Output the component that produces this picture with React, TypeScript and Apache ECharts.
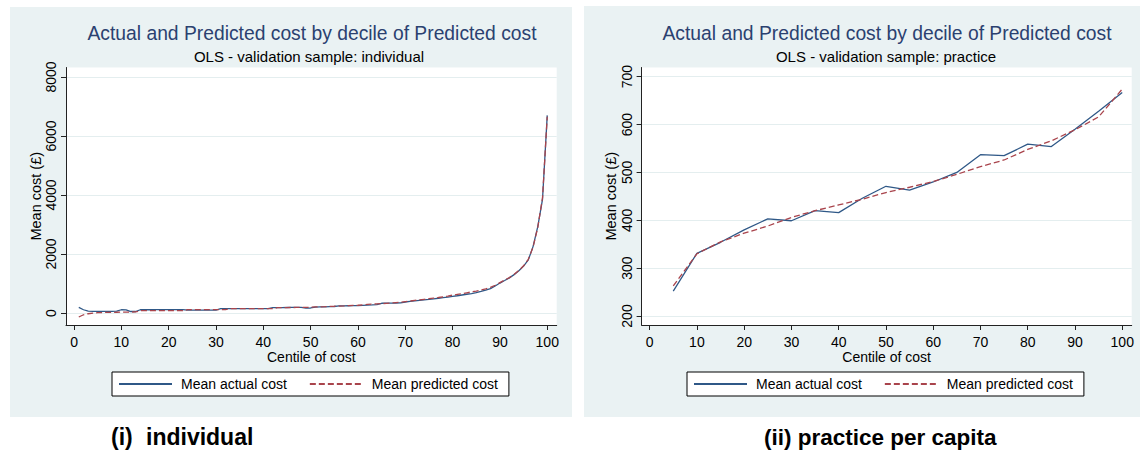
import React, { useEffect, useRef } from "react";
import * as echarts from "echarts";

// ---------- data ----------
const xTickValues = [0, 10, 20, 30, 40, 50, 60, 70, 80, 90, 100];
const indYTicks = [0, 2000, 4000, 6000, 8000];
const pracYTicks = [200, 300, 400, 500, 600, 700];

const indCentiles = [
  1, 2, 3, 4, 5, 6, 7, 8, 9, 10, 11, 12, 13, 14, 15, 16, 17, 18, 19, 20,
  21, 22, 23, 24, 25, 26, 27, 28, 29, 30, 31, 32, 33, 34, 35, 36, 37, 38, 39, 40,
  41, 42, 43, 44, 45, 46, 47, 48, 49, 50, 51, 52, 53, 54, 55, 56, 57, 58, 59, 60,
  61, 62, 63, 64, 65, 66, 67, 68, 69, 70, 71, 72, 73, 74, 75, 76, 77, 78, 79, 80,
  81, 82, 83, 84, 85, 86, 87, 88, 89, 90, 91, 92, 93, 94, 95, 96, 97, 98, 99, 100,
];
const indActual = [
  190, 110, 60, 55, 55, 55, 55, 58, 60, 110, 108, 50, 50, 110, 110, 110, 112, 112, 112, 112,
  112, 112, 112, 100, 100, 100, 100, 100, 100, 100, 148, 148, 148, 148, 148, 150, 150, 150, 150, 150,
  150, 180, 182, 184, 186, 188, 190, 190, 168, 170, 200, 205, 210, 215, 220, 240, 242, 245, 248, 252,
  258, 265, 272, 285, 330, 332, 335, 338, 345, 372, 392, 410, 428, 445, 462, 480, 500, 520, 540, 565,
  585, 610, 635, 660, 690, 730, 775, 825, 915, 1015, 1100, 1190, 1300, 1430, 1590, 1800, 2250, 2930, 3850, 6700,
];
const indPredicted = [
  -135, -60, -25, -5, 10, 15, 20, 22, 25, 30, 32, 33, 35, 78, 78, 78, 78, 78, 78, 78,
  78, 78, 78, 112, 112, 112, 112, 112, 112, 112, 112, 112, 146, 146, 146, 146, 146, 146, 146, 146,
  146, 146, 180, 182, 184, 186, 188, 190, 192, 195, 205, 210, 215, 222, 228, 235, 240, 248, 255, 262,
  275, 290, 300, 310, 318, 328, 338, 350, 362, 385, 405, 425, 445, 465, 485, 505, 525, 550, 575, 605,
  630, 655, 685, 715, 745, 780, 820, 870, 940, 1030, 1115, 1200, 1310, 1440, 1600, 1820, 2230, 2900, 3900, 6650,
];

const pracCentiles = [5, 10, 15, 20, 25, 30, 35, 40, 45, 50, 55, 60, 65, 70, 75, 80, 85, 90, 95, 100];
const pracActual = [252, 331, 354, 380, 403, 399, 420, 416, 446, 471, 463, 480, 500, 537, 535, 559, 554, 590, 628, 667];
const pracPredicted = [263, 330, 355, 373, 388, 406, 420, 432, 444, 458, 469, 481, 496, 512, 526, 548, 566, 589, 616, 674];

const seriesNames = ["Mean actual cost", "Mean predicted cost"];
const titleText = "Actual and Predicted cost by decile of Predicted cost";
const subIndividual = "OLS - validation sample: individual";
const subPractice = "OLS - validation sample: practice";
const xName = "Centile of cost";
const yName = "Mean cost (£)";
const captionLeftNum = "(i)";
const captionLeftWord = "individual";
const captionRight = "(ii) practice per capita";

// ---------- style ----------
const FONT = "'Liberation Sans', Arial, sans-serif";
const PANEL_BG = "#EAF2F3";
const GRID_LINE = "#E4EEEF";
const BLUE = "#2F5887";
const RED = "#A9444C";
const TITLE_COLOR = "#2B4170";

function makeXAxis(gridIndex: number) {
  return {
    type: "value",
    gridIndex,
    min: -1.7,
    max: 102,
    name: xName,
    nameLocation: "middle",
    nameGap: 25,
    nameMoveOverlap: false,
    nameTextStyle: { color: "#000", fontSize: 14, fontFamily: FONT },
    axisLine: { show: true, onZero: false, lineStyle: { color: "#222", width: 1 } },
    axisTick: { show: true, inside: false, length: 5, customValues: xTickValues, lineStyle: { color: "#222" } },
    axisLabel: { customValues: xTickValues, color: "#000", fontSize: 14, fontFamily: FONT, margin: 10 },
    splitLine: { show: false },
  };
}

function makeYAxis(gridIndex: number, min: number, max: number, ticks: number[]) {
  return {
    type: "value",
    gridIndex,
    min,
    max,
    name: yName,
    nameLocation: "middle",
    nameGap: 23,
    nameTextStyle: { color: "#000", fontSize: 14.5, fontFamily: FONT },
    axisLine: { show: true, onZero: false, lineStyle: { color: "#222", width: 1 } },
    axisTick: { show: true, inside: false, length: 5, customValues: ticks, lineStyle: { color: "#222" } },
    axisLabel: {
      customValues: ticks,
      rotate: 90,
      color: "#000",
      fontSize: 14,
      fontFamily: FONT,
      margin: 8,
      formatter: (v: number) => String(v),
    },
    splitLine: { show: true, lineStyle: { color: GRID_LINE, width: 1 } },
  };
}

function makeLegend(left: number) {
  return {
    data: seriesNames,
    left,
    top: 372,
    orient: "horizontal",
    padding: [5, 11, 5, 6],
    itemGap: 22,
    itemWidth: 53,
    itemHeight: 14,
    backgroundColor: "#fff",
    borderColor: "#000",
    borderWidth: 1,
    borderRadius: 0,
    selectedMode: false,
    itemStyle: { opacity: 0, color: "rgba(0,0,0,0)", borderWidth: 0 },
    textStyle: { color: "#000", fontSize: 14, fontFamily: FONT, padding: [0, 0, 0, 4] },
  };
}

function lineSeries(name: string, xIdx: number, xs: number[], ys: number[], color: string, dashed: boolean) {
  return {
    type: "line",
    name,
    xAxisIndex: xIdx,
    yAxisIndex: xIdx,
    data: xs.map((x, i) => [x, ys[i]]),
    symbol: "none",
    showSymbol: false,
    lineStyle: { color, width: 1.3, type: dashed ? [6, 3] : "solid" },
    itemStyle: { color },
    z: dashed ? 4 : 3,
  };
}

function textEl(text: string, x: number, y: number, font: string, fill: string, align = "center") {
  return {
    type: "text",
    x,
    y,
    z: 10,
    style: { text, font, fill, textAlign: align, textVerticalAlign: "middle" },
  };
}

export default function App() {
  const ref = useRef<HTMLDivElement>(null);

  useEffect(() => {
    if (!ref.current) return;
    const chart = echarts.init(ref.current, null, { renderer: "svg" });
    const option = {
      animation: false,
      backgroundColor: "#fff",
      graphic: [
        { type: "rect", z: -10, shape: { x: 10, y: 7, width: 562, height: 410 }, style: { fill: PANEL_BG } },
        { type: "rect", z: -10, shape: { x: 584, y: 6, width: 556, height: 411 }, style: { fill: PANEL_BG } },
        textEl(titleText, 312, 33, `19.3px ${FONT}`, TITLE_COLOR),
        textEl(titleText, 887, 33, `19.3px ${FONT}`, TITLE_COLOR),
        textEl(subIndividual, 309, 56, `15px ${FONT}`, "#000"),
        textEl(subPractice, 886, 56, `15px ${FONT}`, "#000"),
        textEl(captionLeftNum, 111, 437, `bold 23px ${FONT}`, "#000", "left"),
        textEl(captionLeftWord, 146, 437, `bold 23px ${FONT}`, "#000", "left"),
        textEl(captionRight, 764, 437, `bold 22.5px ${FONT}`, "#000", "left"),
      ],
      grid: [
        { left: 66, top: 67.5, width: 490.7, height: 257.5, show: true, backgroundColor: "#fff", borderWidth: 0 },
        { left: 641.6, top: 67.5, width: 490.1, height: 257.5, show: true, backgroundColor: "#fff", borderWidth: 0 },
      ],
      xAxis: [makeXAxis(0), makeXAxis(1)],
      yAxis: [makeYAxis(0, -407, 8322, indYTicks), makeYAxis(1, 181.2, 719.2, pracYTicks)],
      legend: [makeLegend(112), makeLegend(687)],
      series: [
        lineSeries(seriesNames[0], 0, indCentiles, indActual, BLUE, false),
        lineSeries(seriesNames[1], 0, indCentiles, indPredicted, RED, true),
        lineSeries(seriesNames[0], 1, pracCentiles, pracActual, BLUE, false),
        lineSeries(seriesNames[1], 1, pracCentiles, pracPredicted, RED, true),
      ],
    };
    chart.setOption(option as any);
    return () => chart.dispose();
  }, []);

  return (
    <div
      ref={ref}
      style={{ position: "absolute", left: 0, top: 0, width: 1140, height: 450 }}
    />
  );
}
